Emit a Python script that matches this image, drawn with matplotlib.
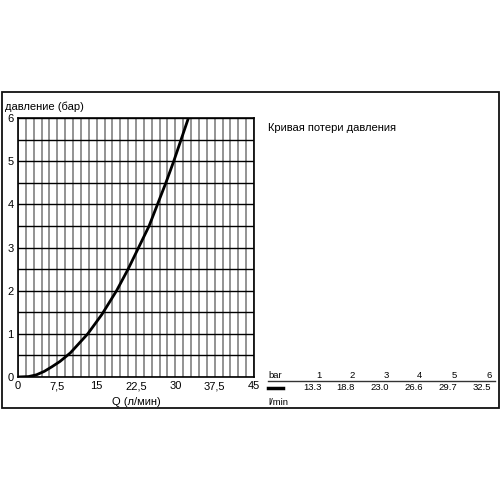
import matplotlib
matplotlib.use("Agg")
import matplotlib.pyplot as plt
from matplotlib.patches import Rectangle
from matplotlib.lines import Line2D

plt.rcParams['font.family'] = ['Liberation Sans', 'DejaVu Sans']

# curve
flow_q = [0, 2, 3.5, 5, 6.5, 8, 10, 13.3, 16, 18.8, 21, 23.0, 25, 26.6, 28.2, 29.7, 31.1, 32.5]
press_p = [0, 0.01, 0.05, 0.13, 0.24, 0.36, 0.56, 1.0, 1.45, 2.0, 2.5, 3.0, 3.5, 4.0, 4.5, 5.0, 5.5, 6.0]

x_ticks = [0, 7.5, 15, 22.5, 30, 37.5, 45]
x_tick_labels = ["0", "7,5", "15", "22,5", "30", "37,5", "45"]
y_ticks = [0, 1, 2, 3, 4, 5, 6]

table_bar = ["1", "2", "3", "4", "5", "6"]
table_lmin = ["13.3", "18.8", "23.0", "26.6", "29.7", "32.5"]

fig = plt.figure(figsize=(5, 5), dpi=100)
fig.patch.set_facecolor('white')

# outer frame
fig.patches.append(Rectangle((0.004, 0.184), 0.993, 0.632, transform=fig.transFigure,
                             fill=False, edgecolor='#111111', linewidth=1.3))

ax = fig.add_axes([0.036, 0.246, 0.472, 0.518])
ax.set_xlim(0, 45)
ax.set_ylim(0, 6)

# grid
for i in range(31):
    ax.axvline(i * 1.5, color='#8a8a8a', linewidth=1.3, zorder=1)
for j in range(13):
    ax.axhline(j * 0.5, color='black', linewidth=1.0, zorder=2)

ax.plot(flow_q, press_p, color='black', linewidth=2.0, zorder=3, solid_capstyle='butt')

for s in ax.spines.values():
    s.set_color('black')
    s.set_linewidth(1.2)

ax.set_xticks(x_ticks)
ax.set_xticklabels(x_tick_labels)
ax.set_yticks(y_ticks)
ax.tick_params(length=0, labelsize=8, pad=3)
ax.set_xlabel("Q (л/мин)", fontsize=8, labelpad=4)

fig.text(0.010, 0.786, "давление (бар)", fontsize=8, ha='left', va='center')

fig.text(0.536, 0.744, "Кривая потери давления", fontsize=8, ha='left', va='center')

# table
fig.text(0.536, 0.250, "bar", fontsize=6.8, ha='left', va='center')
xs = [0.643, 0.710, 0.778, 0.845, 0.914, 0.983]
for x, b, l in zip(xs, table_bar, table_lmin):
    fig.text(x, 0.250, b, fontsize=6.8, ha='right', va='center')
    fig.text(x, 0.224, l, fontsize=6.8, ha='right', va='center')
fig.lines.append(Line2D([0.536, 0.990], [0.238, 0.238], transform=fig.transFigure,
                        color='#333333', linewidth=1.0))
fig.lines.append(Line2D([0.536, 0.566], [0.224, 0.224], transform=fig.transFigure,
                        color='black', linewidth=2.5))
fig.text(0.536, 0.195, "l/min", fontsize=6.8, ha='left', va='center')

fig.savefig("out.png", dpi=100, facecolor='white')
